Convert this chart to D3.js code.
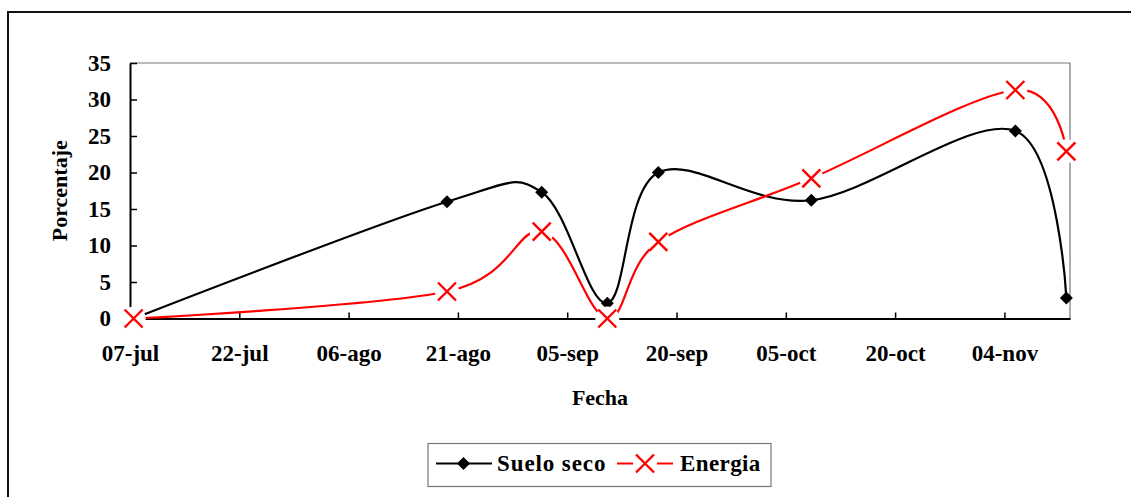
<!DOCTYPE html>
<html>
<head>
<meta charset="utf-8">
<script src="https://cdn.jsdelivr.net/npm/d3@7"></script>
<style>
  html, body { margin: 0; padding: 0; background: #fff; }
  svg { display: block; }
  text { font-family: "Liberation Serif", "Times New Roman", serif; font-weight: bold; fill: #000; }
</style>
</head>
<body>
<svg id="chart" width="1131" height="497"></svg>
<script>
// Sampling dates and measured percentages
const sampleDates = ["2005-07-07", "2005-08-19", "2005-09-01", "2005-09-10", "2005-09-17", "2005-10-08", "2005-11-05", "2005-11-12"];
const sueloSeco = [0, 16.0, 17.3, 2.1, 20.0, 16.2, 25.7, 2.8];
const energia = [0, 3.7, 11.9, 0, 10.5, 19.2, 31.3, 22.9];

// Axis ticks
const xTickDates = ["2005-07-07", "2005-07-22", "2005-08-06", "2005-08-21", "2005-09-05", "2005-09-20", "2005-10-05", "2005-10-20", "2005-11-04"];
const xTickLabels = ["07-jul", "22-jul", "06-ago", "21-ago", "05-sep", "20-sep", "05-oct", "20-oct", "04-nov"];
const yTicks = [0, 5, 10, 15, 20, 25, 30, 35];
const xDomain = ["2005-07-07", "2005-11-13"];
const yDomain = [0, 35];

const parse = d3.utcParse("%Y-%m-%d");
const svg = d3.select("#chart");

const plot = { left: 130, right: 1070, top: 63, bottom: 318.5 };

const x = d3.scaleUtc().domain(xDomain.map(parse)).range([plot.left, plot.right]);
const y = d3.scaleLinear().domain(yDomain).range([plot.bottom, plot.top]);

// each date is plotted in the middle of its day slot
const xPos = d => x(d3.utcHour.offset(parse(d), 12));

const seriesA = sampleDates.map((d, i) => ({ d, v: sueloSeco[i] }));
const seriesB = sampleDates.map((d, i) => ({ d, v: energia[i] }));

// outer chart frame
svg.append("rect")
  .attr("x", 8).attr("y", 12).attr("width", 1140).attr("height", 500)
  .attr("fill", "none").attr("stroke", "#111").attr("stroke-width", 2);

// plot area frame (top and right edges)
svg.append("path")
  .attr("d", `M${plot.left},${plot.top}H${plot.right}V${plot.bottom}`)
  .attr("fill", "none").attr("stroke", "#777").attr("stroke-width", 1.2);

// axes
const xAxis = d3.axisBottom(x)
  .tickValues(xTickDates.map(parse))
  .tickFormat((d, i) => xTickLabels[i])
  .tickSize(-6).tickSizeOuter(0).tickPadding(26);
const gx = svg.append("g").attr("transform", `translate(0,${plot.bottom})`).call(xAxis);

const yAxis = d3.axisLeft(y)
  .tickValues(yTicks)
  .tickSize(-7).tickSizeOuter(0).tickPadding(19);
const gy = svg.append("g").attr("transform", `translate(${plot.left},0)`).call(yAxis);

[gx, gy].forEach(g => {
  g.select(".domain").attr("stroke", "#000").attr("stroke-width", 2);
  g.selectAll(".tick line").attr("stroke", "#000").attr("stroke-width", 1.5);
  g.selectAll(".tick text")
    .style("font-family", "'Liberation Serif', 'Times New Roman', serif")
    .style("font-weight", "bold").style("font-size", "23px").attr("fill", "#000");
});
gy.selectAll(".tick text").attr("dy", "0.32em");

// axis titles
svg.append("text")
  .attr("x", (plot.left + plot.right) / 2).attr("y", 405)
  .attr("text-anchor", "middle").style("font-size", "22px")
  .text("Fecha");
svg.append("text")
  .attr("transform", `translate(67,${(plot.top + plot.bottom) / 2}) rotate(-90)`)
  .attr("text-anchor", "middle").style("font-size", "22px")
  .text("Porcentaje");

// smoothed lines
const line = d3.line()
  .x(p => xPos(p.d)).y(p => y(p.v))
  .curve(d3.curveCardinal.tension(0));

const diamond = (cx, cy, r) => `M${cx},${cy - r}L${cx + r},${cy}L${cx},${cy + r}L${cx - r},${cy}Z`;
const cross = (cx, cy, r) => `M${cx - r},${cy - r}L${cx + r},${cy + r}M${cx - r},${cy + r}L${cx + r},${cy - r}`;

svg.append("path").datum(seriesA)
  .attr("d", line).attr("fill", "none").attr("stroke", "#000").attr("stroke-width", 2.2);
svg.append("g").selectAll("path").data(seriesA).join("path")
  .attr("d", p => diamond(xPos(p.d), y(p.v), 6.5)).attr("fill", "#000");

svg.append("path").datum(seriesB)
  .attr("d", line).attr("fill", "none").attr("stroke", "#ff0000").attr("stroke-width", 2.2);
const mk = svg.append("g").selectAll("g").data(seriesB).join("g");
mk.append("circle")
  .attr("cx", p => xPos(p.d)).attr("cy", p => y(p.v)).attr("r", 12).attr("fill", "#fff");
mk.append("path")
  .attr("d", p => cross(xPos(p.d), y(p.v), 9))
  .attr("fill", "none").attr("stroke", "#ff0000").attr("stroke-width", 2.4);

// legend
const lg = svg.append("g");
lg.append("rect").attr("x", 428).attr("y", 443.5).attr("width", 343).attr("height", 43)
  .attr("fill", "#fff").attr("stroke", "#777").attr("stroke-width", 1.2);
const ly = 463.5;
lg.append("line").attr("x1", 436).attr("x2", 492).attr("y1", ly).attr("y2", ly)
  .attr("stroke", "#000").attr("stroke-width", 2.2);
lg.append("path").attr("d", diamond(463.5, ly, 6.5)).attr("fill", "#000");
lg.append("text").attr("x", 497).attr("y", 470.5).style("font-size", "23px")
  .style("letter-spacing", "0.9px").text("Suelo seco");
lg.append("line").attr("x1", 617).attr("x2", 673).attr("y1", ly).attr("y2", ly)
  .attr("stroke", "#ff0000").attr("stroke-width", 2.2);
lg.append("circle").attr("cx", 645).attr("cy", ly).attr("r", 12).attr("fill", "#fff");
lg.append("path").attr("d", cross(645, ly, 9))
  .attr("fill", "none").attr("stroke", "#ff0000").attr("stroke-width", 2.4);
lg.append("text").attr("x", 680).attr("y", 470.5).style("font-size", "23px")
  .style("letter-spacing", "0.4px").text("Energia");
</script>
</body>
</html>
